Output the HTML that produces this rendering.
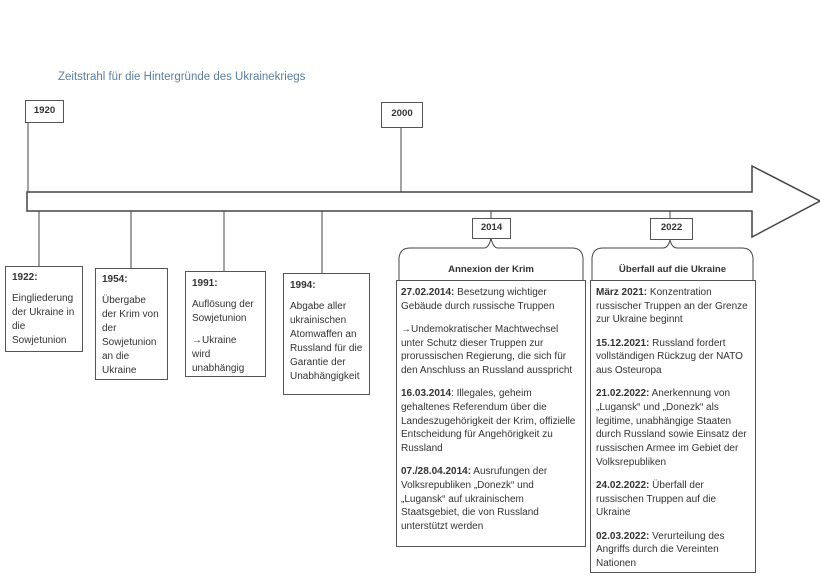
<!DOCTYPE html>
<html><head><meta charset="utf-8"><style>
body{margin:0;width:820px;height:576px;background:#fff;position:relative;overflow:hidden;font-family:"Liberation Sans",sans-serif;color:#333}
.t{position:absolute;font-size:10px;line-height:14px;white-space:nowrap}
.b{position:absolute;border:1px solid #555;background:#fff;box-sizing:border-box}
.y{position:absolute;font-size:9.6px;font-weight:bold;text-align:center}
p{margin:0 0 9.5px 0}
b{font-weight:bold}
</style></head><body>
<svg width="820" height="576" style="position:absolute;left:0;top:0">
<g stroke="#444" fill="none" stroke-width="1">
<line x1="28" y1="122" x2="28" y2="192"/>
<line x1="401" y1="127" x2="401" y2="192"/>
<line x1="39" y1="211" x2="39" y2="266"/>
<line x1="131" y1="211" x2="131" y2="268"/>
<line x1="224" y1="211" x2="224" y2="272"/>
<line x1="322" y1="211" x2="322" y2="273"/>
<line x1="491" y1="211" x2="491" y2="218"/>
<line x1="670" y1="211" x2="670" y2="218"/>
<path d="M27,192 L752,192 L752,166 L820,201 L752,237 L752,211 L27,211 Z" stroke-width="1.5" fill="#fff"/>
<path d="M399,280 L399,258 Q400,248 410,248 L484,248 Q489,248 491,238 Q493,248 498,248 L572,248 Q582,248 583,258 L583,280"/>
<path d="M592,280 L592,258 Q593,248 603,248 L663,248 Q668,248 670,240 Q672,248 677,248 L742,248 Q752,248 753,258 L753,280"/>
</g>
</svg>
<div class="t" style="left:58px;top:70px;font-size:11.5px;color:#5b7f9e">Zeitstrahl für die Hintergründe des Ukrainekriegs</div>
<div class="b" style="left:25px;top:100px;width:39px;height:23px"></div><div class="y" style="left:25px;top:105px;width:39px">1920</div>
<div class="b" style="left:381px;top:102px;width:42px;height:26px"></div><div class="y" style="left:381px;top:108px;width:42px">2000</div>
<div class="b" style="left:472px;top:218px;width:39px;height:21px"></div><div class="y" style="left:472px;top:222px;width:39px">2014</div>
<div class="b" style="left:650px;top:218px;width:43px;height:22px"></div><div class="y" style="left:650px;top:222px;width:43px">2022</div>

<div class="b" style="left:5px;top:266px;width:78px;height:86px"></div>
<div class="t" style="left:12px;top:271px"><b>1922:</b></div>
<div class="t" style="left:12px;top:292px">Eingliederung<br>der Ukraine in<br>die<br>Sowjetunion</div>

<div class="b" style="left:95px;top:268px;width:73px;height:112px"></div>
<div class="t" style="left:102px;top:273px"><b>1954:</b></div>
<div class="t" style="left:102px;top:294px">Übergabe<br>der Krim von<br>der<br>Sowjetunion<br>an die<br>Ukraine</div>

<div class="b" style="left:185px;top:271px;width:81px;height:106px"></div>
<div class="t" style="left:192px;top:277px"><b>1991:</b></div>
<div class="t" style="left:192px;top:298px">Auflösung der<br>Sowjetunion</div>
<div class="t" style="left:192px;top:334px">→Ukraine<br>wird<br>unabhängig</div>

<div class="b" style="left:283px;top:273px;width:87px;height:122px"></div>
<div class="t" style="left:290px;top:279px"><b>1994:</b></div>
<div class="t" style="left:290px;top:300px">Abgabe aller<br>ukrainischen<br>Atomwaffen an<br>Russland für die<br>Garantie der<br>Unabhängigkeit</div>

<div class="y" style="left:399px;top:264px;width:184px">Annexion der Krim</div>
<div class="b" style="left:396px;top:280px;width:190px;height:267px"></div>
<div class="t" style="left:401px;top:286px;line-height:13.7px">
<p><b>27.02.2014:</b> Besetzung wichtiger<br>Gebäude durch russische Truppen</p>
<p>→Undemokratischer Machtwechsel<br>unter Schutz dieser Truppen zur<br>prorussischen Regierung, die sich für<br>den Anschluss an Russland ausspricht</p>
<p><b>16.03.2014</b>: Illegales, geheim<br>gehaltenes Referendum über die<br>Landeszugehörigkeit der Krim, offizielle<br>Entscheidung für Angehörigkeit zu<br>Russland</p>
<p><b>07./28.04.2014:</b> Ausrufungen der<br>Volksrepubliken „Donezk“ und<br>„Lugansk“ auf ukrainischem<br>Staatsgebiet, die von Russland<br>unterstützt werden</p>
</div>

<div class="y" style="left:592px;top:264px;width:161px">Überfall auf die Ukraine</div>
<div class="b" style="left:590px;top:280px;width:166px;height:293px"></div>
<div class="t" style="left:596px;top:286px;line-height:13.7px">
<p><b>März 2021:</b> Konzentration<br>russischer Truppen an der Grenze<br>zur Ukraine beginnt</p>
<p><b>15.12.2021:</b> Russland fordert<br>vollständigen Rückzug der NATO<br>aus Osteuropa</p>
<p><b>21.02.2022:</b> Anerkennung von<br>„Lugansk“ und „Donezk“ als<br>legitime, unabhängige Staaten<br>durch Russland sowie Einsatz der<br>russischen Armee im Gebiet der<br>Volksrepubliken</p>
<p><b>24.02.2022:</b> Überfall der<br>russischen Truppen auf die<br>Ukraine</p>
<p><b>02.03.2022:</b> Verurteilung des<br>Angriffs durch die Vereinten<br>Nationen</p>
</div>
</body></html>
